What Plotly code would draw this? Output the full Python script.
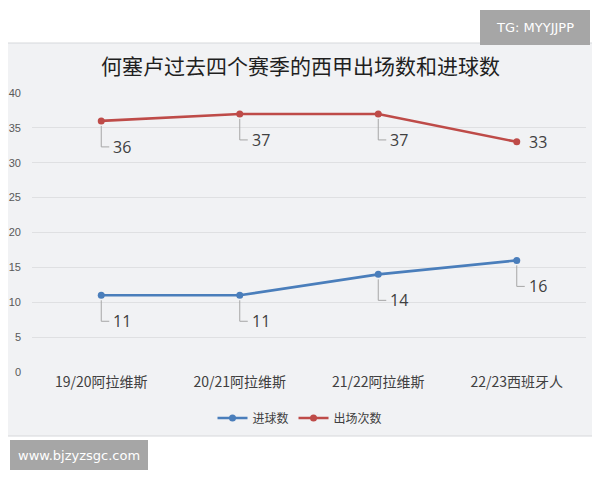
import plotly.graph_objects as go

# ---- data ----
seasons = ["19/20阿拉维斯", "20/21阿拉维斯", "21/22阿拉维斯", "22/23西班牙人"]
goals = [11, 11, 14, 16]
apps = [36, 37, 37, 33]
series_names = ["进球数", "出场次数"]
title_text = "何塞卢过去四个赛季的西甲出场数和进球数"
y_ticks = [0, 5, 10, 15, 20, 25, 30, 35, 40]

# ---- style ----
OFF = 8  # page body margin offset
W, H = 600 - OFF, 480 - OFF
PL, PR, PT, PB = 32, 586, 93, 372  # plot area in screenshot pixels
ML, MR, MT, MB = PL - OFF, W - (PR - OFF), PT - OFF, H - (PB - OFF)
BLUE = "#4a7ebb"
RED = "#be4b48"
BG = "#f1f2f4"
CJK = "Noto Sans CJK SC"

def px_x(x):
    return (x - PL) / (PR - PL)

def px_y(y):
    return 1 - (y - PT) / (PB - PT)

fig = go.Figure()
for name, vals, col in [(series_names[0], goals, BLUE), (series_names[1], apps, RED)]:
    fig.add_trace(go.Scatter(
        x=seasons, y=vals, name=name, mode="lines+markers",
        line=dict(color=col, width=2.6),
        marker=dict(color=col, size=7),
        cliponaxis=False,
    ))

shapes = [
    dict(type="rect", xref="paper", yref="paper",
         x0=px_x(2), x1=px_x(598), y0=px_y(436), y1=px_y(43),
         fillcolor=BG, line=dict(color="#d6d8db", width=1), layer="below"),
]
annotations = []

# data labels with leader lines
for vals, last_right in [(goals, False), (apps, True)]:
    for i, (cat, v) in enumerate(zip(seasons, vals)):
        if last_right and i == len(vals) - 1:
            annotations.append(dict(x=cat, y=v, xref="x", yref="y", text=str(v),
                                    showarrow=False, xanchor="left", xshift=10,
                                    font=dict(family="Open Sans", size=16, color="#404040")))
            continue
        shapes.append(dict(type="path", xref="x", yref="y",
                           xsizemode="pixel", ysizemode="pixel",
                           xanchor=i, yanchor=v,
                           path="M0,-5 L0,-26 L8,-26",
                           line=dict(color="#a6a6a6", width=1)))
        annotations.append(dict(x=cat, y=v, xref="x", yref="y", text=str(v),
                                showarrow=False, xanchor="left", yanchor="middle",
                                xshift=10, yshift=-26,
                                font=dict(family="Open Sans", size=16, color="#404040")))

# title
annotations.append(dict(x=px_x(300), y=px_y(65), xref="paper", yref="paper",
                        text=title_text, showarrow=False, xanchor="center", yanchor="middle",
                        font=dict(family=CJK, size=21, color="#1f1f1f")))

# watermarks
shapes.append(dict(type="rect", xref="paper", yref="paper",
                   x0=px_x(480), x1=px_x(590), y0=px_y(45), y1=px_y(10),
                   fillcolor="#a6a6a6", line=dict(width=0), layer="above"))
annotations.append(dict(x=px_x(535), y=px_y(27.5), xref="paper", yref="paper",
                        text="TG: MYYJJPP", showarrow=False, xanchor="center", yanchor="middle",
                        font=dict(family="DejaVu Sans", size=13, color="white")))
shapes.append(dict(type="rect", xref="paper", yref="paper",
                   x0=px_x(10), x1=px_x(148), y0=px_y(470), y1=px_y(440),
                   fillcolor="#a6a6a6", line=dict(width=0), layer="above"))
annotations.append(dict(x=px_x(79), y=px_y(455), xref="paper", yref="paper",
                        text="www.bjzyzsgc.com", showarrow=False, xanchor="center", yanchor="middle",
                        font=dict(family="DejaVu Sans", size=13, color="white")))

fig.update_layout(
    width=W, height=H,
    margin=dict(l=ML, r=MR, t=MT, b=MB, pad=0, autoexpand=False),
    paper_bgcolor="white", plot_bgcolor=BG,
    showlegend=True,
    legend=dict(orientation="h", x=px_x(300), xanchor="center", y=px_y(418), yanchor="middle",
                font=dict(family=CJK, size=12, color="#404040"),
                bgcolor="rgba(0,0,0,0)", itemwidth=30, tracegroupgap=0),
    xaxis=dict(type="category", range=[-0.5, 3.5], showgrid=False, zeroline=False,
               showline=False, ticks="", automargin=False,
               tickfont=dict(family=CJK, size=14, color="#404040")),
    yaxis=dict(range=[0, 40], tickvals=y_ticks, showgrid=True, gridcolor="#dfe0e2",
               gridwidth=1, zeroline=False, showline=False, ticks="",
               ticklabelstandoff=10, automargin=False,
               tickfont=dict(family="Liberation Sans", size=11, color="#595959")),
    shapes=shapes,
    annotations=annotations,
)

fig.write_html("out.html")
